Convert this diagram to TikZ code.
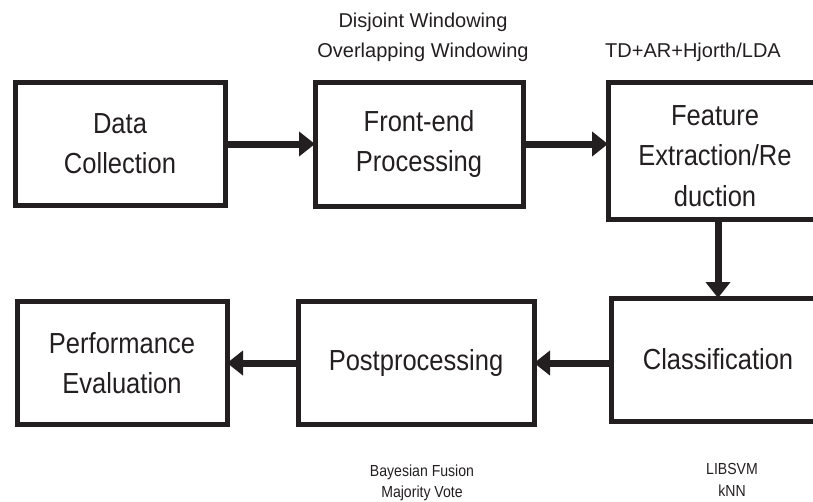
\documentclass[tikz,border=0pt]{standalone}
\usepackage{fontspec}
\setmainfont{Liberation Sans}
\newfontfamily\condf{Liberation Sans}[FakeStretch=0.88]
\usetikzlibrary{arrows.meta}
\definecolor{ink}{HTML}{231F20}
\begin{document}
\begin{tikzpicture}[x=1pt,y=-1pt,
  box/.style={draw=ink, line width=5pt, inner sep=0pt, outer sep=0pt, align=center, text=ink,
    font=\condf\fontsize{29}{40}\selectfont},
  boxtext/.style={align=center, text=ink, inner sep=0pt, font=\condf\fontsize{29}{40.5}\selectfont},
  arr/.style={draw=ink, line width=7pt, -{Triangle[length=16pt,width=24pt]}},
  lab/.style={align=center, text=ink, inner sep=0pt, font=\fontsize{20}{30}\selectfont},
  smalllab/.style={align=center, text=ink, inner sep=0pt, font=\condf\fontsize{16}{21.5}\selectfont}]
\useasboundingbox (0,0) rectangle (813,501);
\node[box, minimum width=210pt, minimum height=123pt] (data) at (120,144) {Data\\Collection};
\node[box, minimum width=208pt, minimum height=124pt] (front) at (419,144) {Front-end\\Processing};
\node[box, minimum width=214pt, minimum height=137pt] (feat) at (715,150.5) {};
\node[boxtext] (feattext) at (715,156) {Feature\\Extraction/Re\\duction};
\node[box, minimum width=213pt, minimum height=123pt] (class) at (718,359.5) {Classification};
\node[box, minimum width=236pt, minimum height=123pt] (post) at (416,363) {Postprocessing};
\node[box, minimum width=210pt, minimum height=123pt] (perf) at (122,363) {Performance\\Evaluation};
\draw[arr] (data.east) -- (front.west);
\draw[arr] (front.east) -- (front.east -| feat.west);
\draw[arr] (class.north |- feat.south) -- (class.north);
\draw[arr] (post.east -| class.west) -- (post.east);
\draw[arr] (post.west) -- (perf.east);
\node[lab] (win) at (423,37) {Disjoint Windowing\\Overlapping Windowing};
\node[lab] (feattxt) at (693,52) {TD+AR+Hjorth/LDA};
\node[smalllab] (posttxt) at (422,483) {Bayesian Fusion\\Majority Vote};
\node[smalllab] (classtxt) at (732,480) {LIBSVM\\kNN};
\end{tikzpicture}
\end{document}
